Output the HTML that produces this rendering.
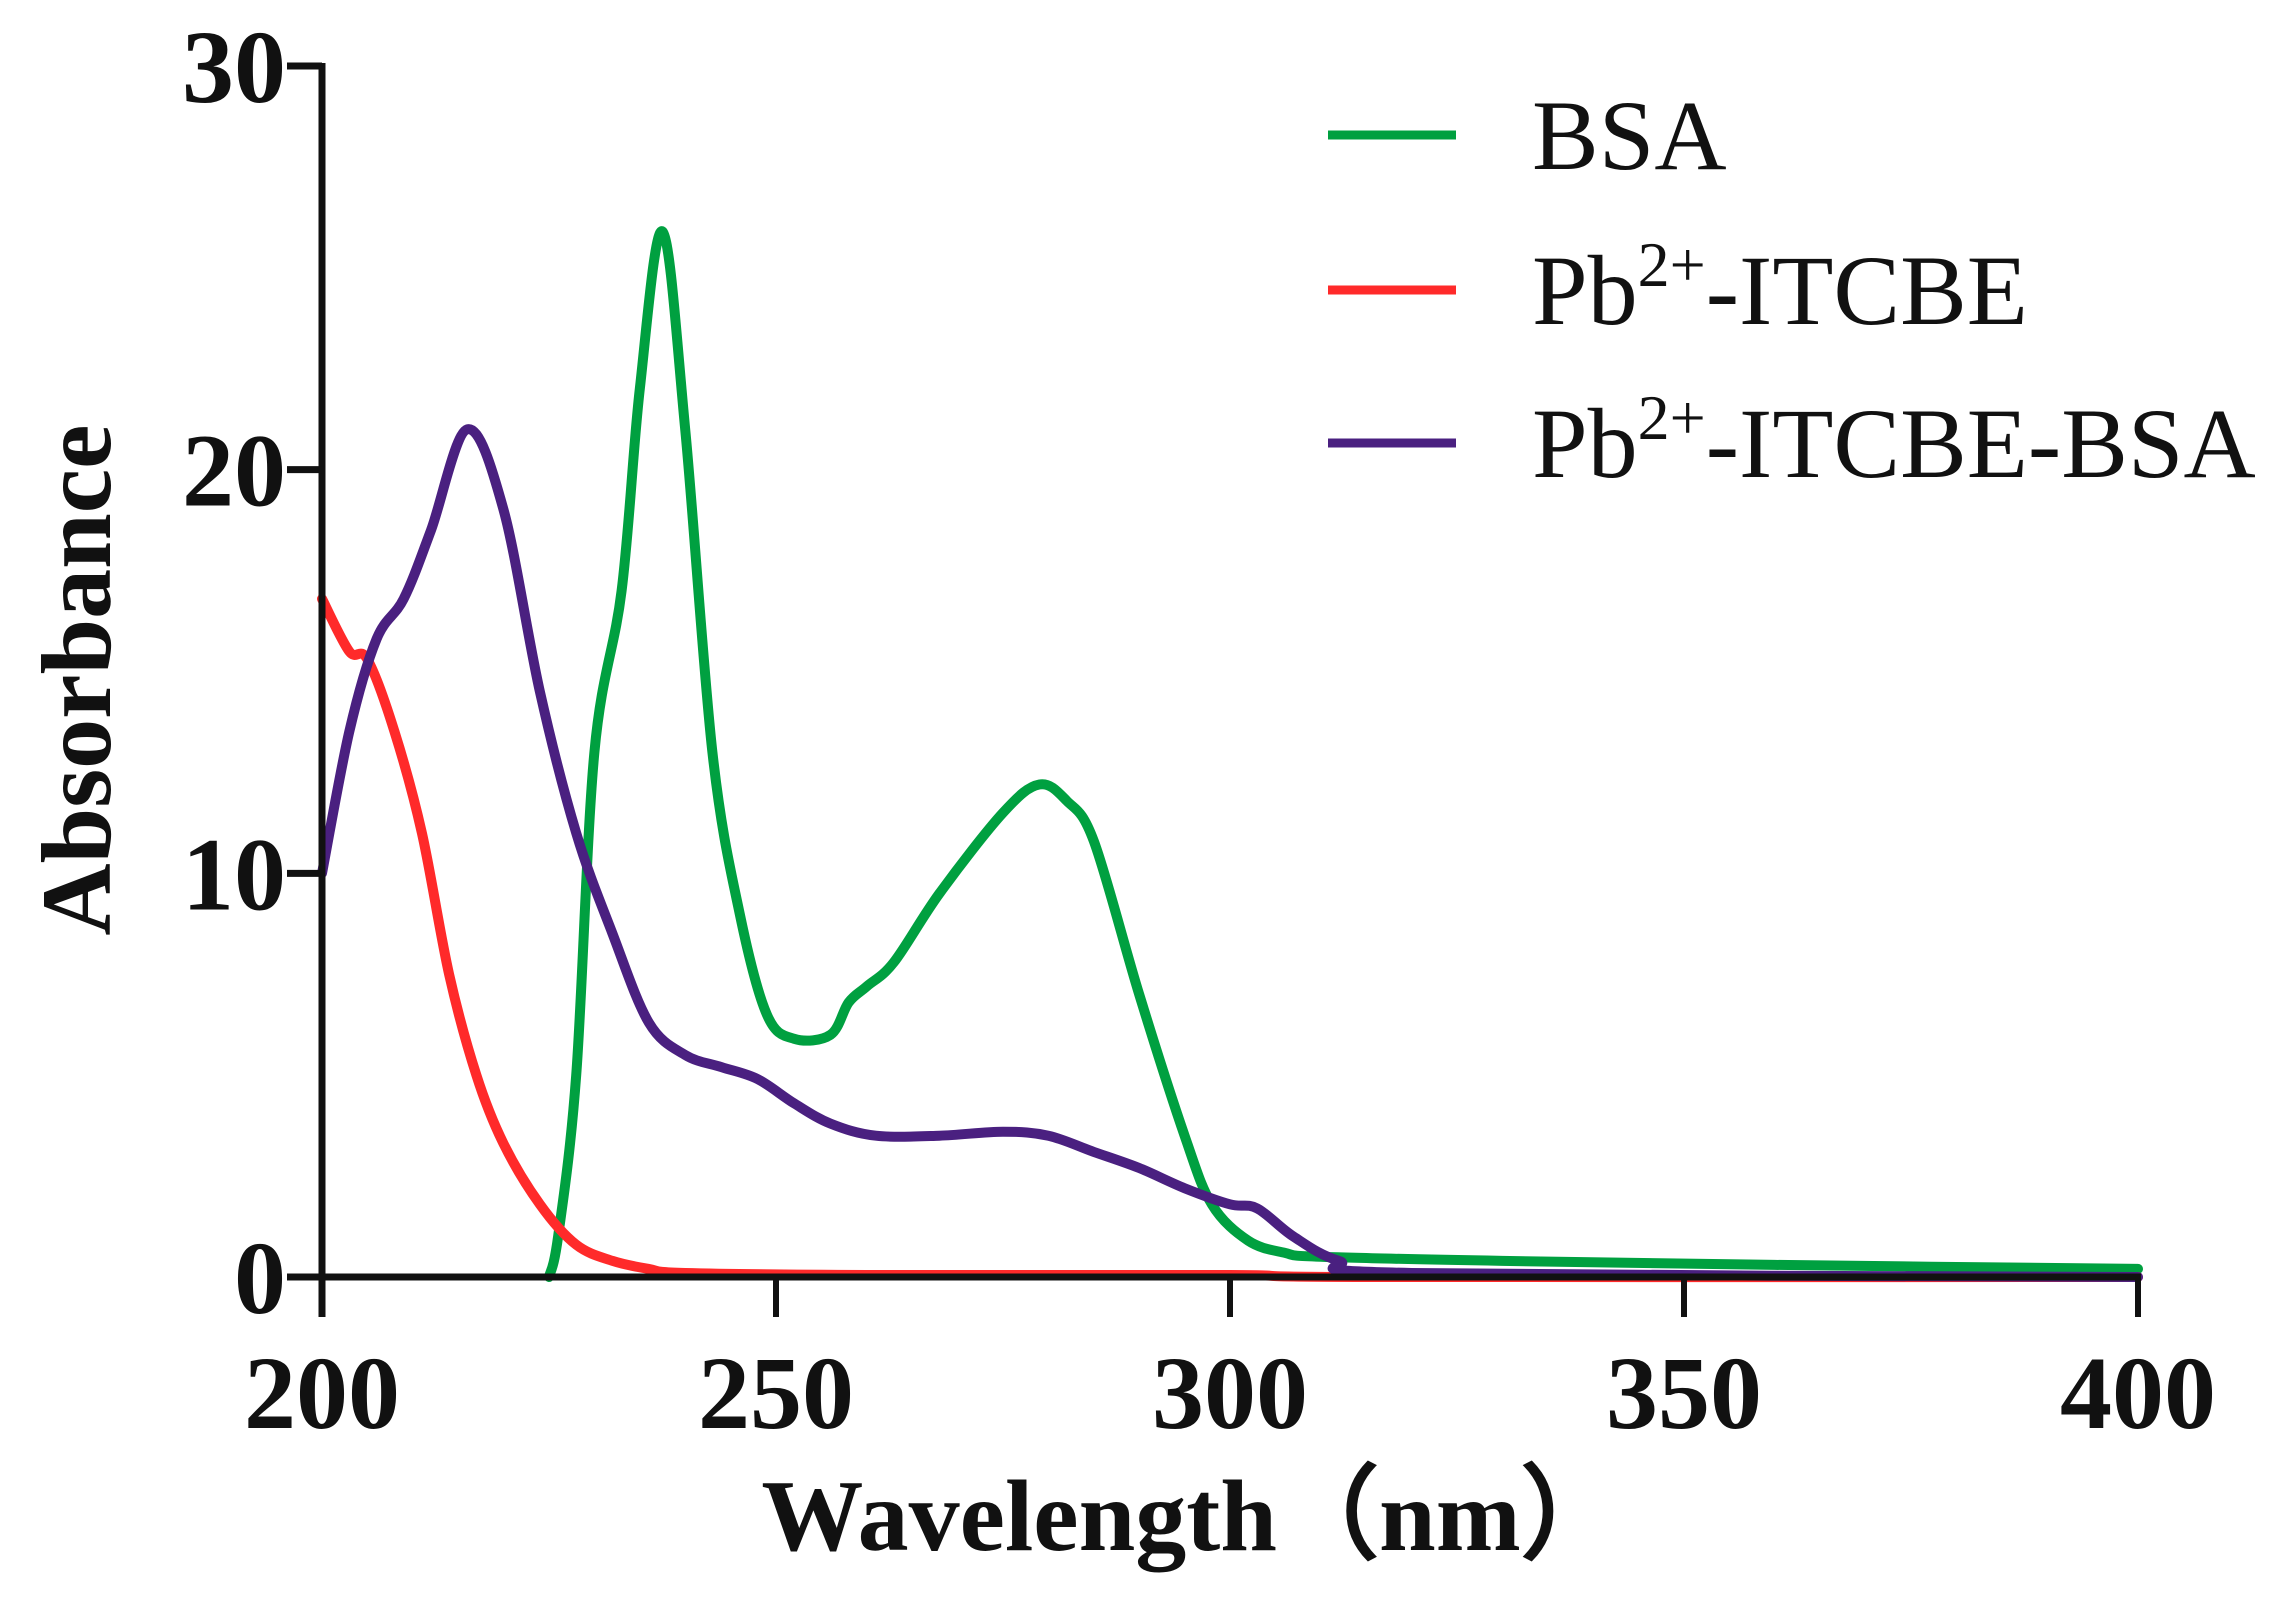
<!DOCTYPE html>
<html><head><meta charset="utf-8"><style>
html,body{margin:0;padding:0;background:#fff}
svg{display:block}
text{font-family:"Liberation Serif",serif;font-weight:bold;fill:#111}
</style></head><body>
<svg id="chart" width="2283" height="1611" viewBox="0 0 2283 1611"></svg>
<script>
const xTicks=[200,250,300,350,400];
const yTicks=[0,10,20,30];
const bsaX=[225,226,228,230,233,235,237.5,240,243,246,249,252,256,258,260,263,268,275,279,282,285,290,295,298,302,306,310,330,360,400];
const bsaY=[0,1,5,13,17,22,25.9,21,13,9,6.5,5.9,6,6.8,7.2,7.8,9.5,11.5,12.2,11.8,10.8,7,3.5,1.8,0.9,0.6,0.5,0.4,0.3,0.2];
const pbX=[200,203,205,208,211,214,217,220,224,228,232,236,240,260,300,315,400];
const pbY=[16.8,15.5,15.3,13.5,11,7.5,5,3.3,1.8,0.8,0.4,0.2,0.1,0.05,0.05,0,0];
const mixX=[200,203,206,209,212,216,220,224,228,232,236,240,244,248,252,256,261,268,275,280,285,290,295,300,303,307,312,320,400];
const mixY=[10,13.5,15.8,16.8,18.5,21,19,14.5,11,8.5,6.3,5.5,5.2,4.9,4.3,3.8,3.5,3.5,3.6,3.5,3.1,2.7,2.2,1.8,1.7,1.0,0.4,0.1,0];
const seriesNames=["BSA","Pb2+-ITCBE","Pb2+-ITCBE-BSA"];
const colors=["#00a040","#ff2a2a","#4a2080"];

const X0=322,X1=2138,Y0=1277,Y1=66;
const sx=v=>X0+(v-200)/200*(X1-X0);
const sy=v=>Y0-(v/30)*(Y0-Y1);
const svg=document.getElementById('chart');
const NS='http://www.w3.org/2000/svg';
function mk(tag,attrs){const e=document.createElementNS(NS,tag);for(const k in attrs)e.setAttribute(k,attrs[k]);svg.appendChild(e);return e;}
function smooth(pts){
  let d='M'+pts[0][0].toFixed(1)+','+pts[0][1].toFixed(1);
  for(let i=0;i<pts.length-1;i++){
    const p0=pts[i-1]||pts[i],p1=pts[i],p2=pts[i+1],p3=pts[i+2]||p2;
    const c1=[p1[0]+(p2[0]-p0[0])/6,p1[1]+(p2[1]-p0[1])/6];
    const c2=[p2[0]-(p3[0]-p1[0])/6,p2[1]-(p3[1]-p1[1])/6];
    d+=' C'+c1.map(v=>v.toFixed(1))+' '+c2.map(v=>v.toFixed(1))+' '+p2.map(v=>v.toFixed(1));
  }
  return d;
}

const series=[[bsaX,bsaY],[pbX,pbY],[mixX,mixY]];
series.forEach((s,i)=>{
  const pts=s[0].map((x,j)=>[sx(x),sy(s[1][j])]);
  const p=mk('path',{d:smooth(pts),fill:'none',stroke:colors[i],'stroke-width':10,'stroke-linejoin':'round','stroke-linecap':'round'});
  
  
});

const ya=mk('line',{x1:X0,y1:Y1-3,x2:X0,y2:Y0+40,stroke:'#111','stroke-width':7});


const xa=mk('line',{x1:X0-35,y1:Y0,x2:X1+3,y2:Y0,stroke:'#111','stroke-width':7});



yTicks.forEach(v=>{
  const t=mk('line',{x1:X0-35,y1:sy(v),x2:X0,y2:sy(v),stroke:'#111','stroke-width':7});
  
  
  const l=mk('text',{x:286,y:sy(v)+36,'text-anchor':'end','font-size':104});
  l.textContent=v;
  
  
});
xTicks.forEach(v=>{
  const t=mk('line',{x1:sx(v),y1:Y0,x2:sx(v),y2:Y0+40,stroke:'#111','stroke-width':6});
  
  
  const l=mk('text',{x:sx(v),y:1428,'text-anchor':'middle','font-size':104});
  l.textContent=v;
  
  
});

const xt=mk('text',{x:1192,y:1550,'text-anchor':'middle','font-size':102});
xt.textContent='Wavelength（nm）';


const yt=mk('text',{x:0,y:0,'text-anchor':'middle','font-size':100,transform:'translate(110,680) rotate(-90)'});
yt.textContent='Absorbance';



const legY=[135,290,443];
seriesNames.forEach((n,i)=>{
  const l=mk('line',{x1:1328,y1:legY[i],x2:1456,y2:legY[i],stroke:colors[i],'stroke-width':9});
  
  
  const t=mk('text',{x:1532,y:legY[i]+34,'font-size':100,style:'font-weight:normal'});
  
  
  if(n.startsWith('Pb2+')){
    t.innerHTML='Pb<tspan dy="-38" font-size="64">2+</tspan><tspan dy="38">'+n.slice(4)+'</tspan>';
  } else t.textContent=n;
});
</script>
</body></html>
